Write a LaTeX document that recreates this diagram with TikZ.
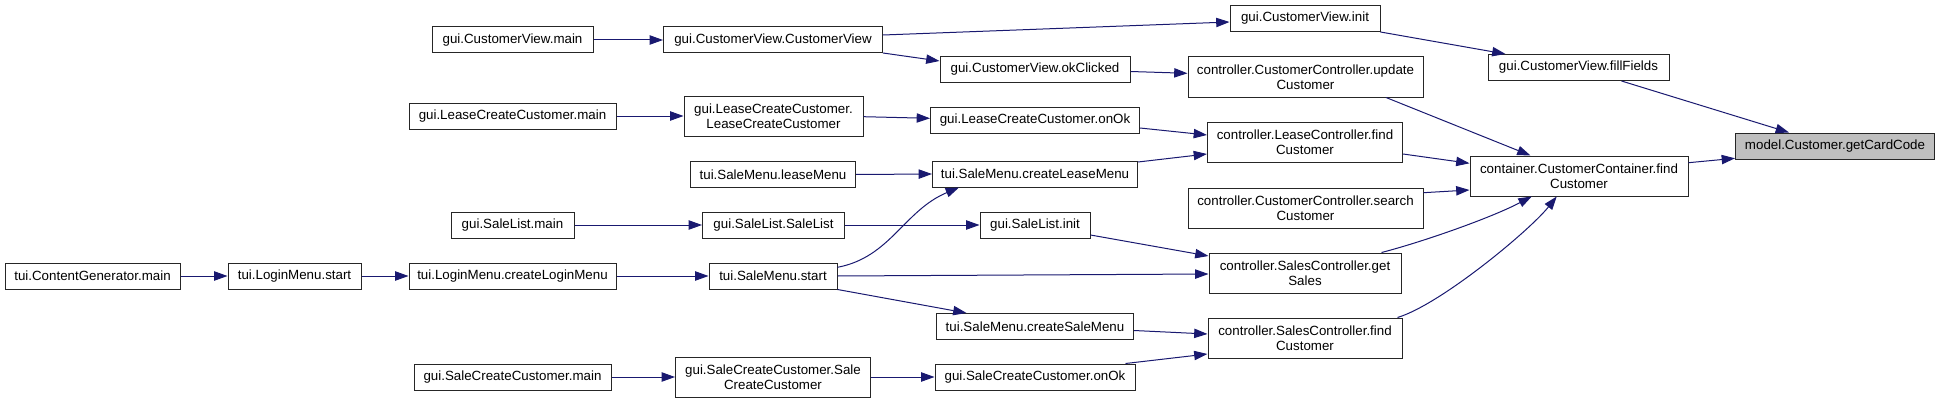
\documentclass[tikz,border=0pt]{standalone}
\usepackage{fontspec}
\setmainfont{Liberation Sans}
\usetikzlibrary{arrows.meta,calc}
\definecolor{midnight}{HTML}{191970}
\definecolor{greyfill}{HTML}{BFBFBF}
\tikzset{
  box/.style={draw=black!85, line width=0.75pt, fill=white, inner sep=0pt,
    font=\fontsize{10}{11.5}\selectfont, align=center},
  sz/.style 2 args={minimum width=#1*0.75pt, minimum height=#2*0.75pt},
  callarrow/.style={draw=midnight, line width=0.75pt, -{Triangle[length=10pt,width=7pt]}}
}
\begin{document}
\begin{tikzpicture}[x=0.75pt,y=-0.75pt]
\useasboundingbox (0,0) rectangle (1940,403);
% nodes
\node[box, sz={175}{26}] (cg) at (92.5,276) {tui.ContentGenerator.main};
\node[box, sz={133}{26}] (lms) at (294.5,276) {tui.LoginMenu.start};
\node[box, sz={207}{26}] (clm) at (512.5,276) {tui.LoginMenu.createLoginMenu};
\node[box, sz={161}{26}] (cvm) at (512.5,40) {gui.CustomerView.main};
\node[box, sz={207}{26}] (lccm) at (512.5,116) {gui.LeaseCreateCustomer.main};
\node[box, sz={123}{26}] (slm) at (512.5,225) {gui.SaleList.main};
\node[box, sz={197}{26}] (sccm) at (512.5,377) {gui.SaleCreateCustomer.main};
\node[box, sz={219}{26}] (cvcv) at (773,40) {gui.CustomerView.CustomerView};
\node[box, sz={179}{40}] (lcclcc) at (773.5,116) {gui.LeaseCreateCustomer.\\LeaseCreateCustomer};
\node[box, sz={165}{26}] (lmenu) at (773,174.5) {tui.SaleMenu.leaseMenu};
\node[box, sz={142}{26}] (slsl) at (773.5,225) {gui.SaleList.SaleList};
\node[box, sz={128}{26}] (sms) at (773,276) {tui.SaleMenu.start};
\node[box, sz={195}{40}] (scscc) at (773,377) {gui.SaleCreateCustomer.Sale\\CreateCustomer};
\node[box, sz={190}{26}] (okc) at (1035,69.5) {gui.CustomerView.okClicked};
\node[box, sz={209}{26}] (lcok) at (1035,120) {gui.LeaseCreateCustomer.onOk};
\node[box, sz={205}{26}] (clmenu) at (1035,174) {tui.SaleMenu.createLeaseMenu};
\node[box, sz={110}{26}] (sli) at (1035,225) {gui.SaleList.init};
\node[box, sz={197}{26}] (csm) at (1035,326.5) {tui.SaleMenu.createSaleMenu};
\node[box, sz={200}{26}] (scok) at (1035,377) {gui.SaleCreateCustomer.onOk};
\node[box, sz={150}{26}] (cvi) at (1305,18.5) {gui.CustomerView.init};
\node[box, sz={235}{40}] (ccu) at (1305.5,77) {controller.CustomerController.update\\Customer};
\node[box, sz={195}{40}] (lcf) at (1305,142.5) {controller.LeaseController.find\\Customer};
\node[box, sz={235}{40}] (ccs) at (1305.5,208) {controller.CustomerController.search\\Customer};
\node[box, sz={192}{40}] (scg) at (1305,273) {controller.SalesController.get\\Sales};
\node[box, sz={194}{40}] (scf) at (1305,338) {controller.SalesController.find\\Customer};
\node[box, sz={181}{26}] (cvff) at (1578.5,67.5) {gui.CustomerView.fillFields};
\node[box, sz={218}{40}] (ccf) at (1579,176) {container.CustomerContainer.find\\Customer};
\node[box, sz={199}{26}, fill=greyfill] (gcc) at (1835,146) {model.Customer.getCardCode};
% edges
\draw[callarrow] (cg.east) -- (lms.west);
\draw[callarrow] (lms.east) -- (clm.west);
\draw[callarrow] (clm.east) -- (sms.west);
\draw[callarrow] (cvm.east) -- (cvcv.west);
\draw[callarrow] (lccm.east) -- (lcclcc.west);
\draw[callarrow] (slm.east) -- (slsl.west);
\draw[callarrow] (sccm.east) -- (scscc.west);
\draw[callarrow] ($(cvcv.east)+(0,-5)$) -- ($(cvi.west)+(0,3.5)$);
\draw[callarrow] ($(cvcv.south east)+(0,-0.5)$) -- ($(okc.west)+(0,-8.5)$);
\draw[callarrow] ($(okc.east)+(0,2)$) -- ($(ccu.west)+(0,-3.7)$);
\draw[callarrow] ($(lcclcc.east)+(0,0.7)$) -- ($(lcok.west)+(0,-1.7)$);
\draw[callarrow] ($(lcok.east)+(0,8)$) -- ($(lcf.west)+(0,-7.5)$);
\draw[callarrow] ($(clmenu.east)+(0,-12)$) -- ($(lcf.west)+(0,11.5)$);
\draw[callarrow] (lmenu.east) -- (clmenu.west);
\draw[callarrow] ($(sms.east)+(0,-8.7)$) .. controls +(53,-10) and +(-55,23) .. ($(clmenu.south west)+(27,0)$);
\draw[callarrow] (sms.east) -- ($(scg.west)+(0,1)$);
\draw[callarrow] (sms.south east) -- ($(csm.north west)+(30.5,0)$);
\draw[callarrow] (slsl.east) -- (sli.west);
\draw[callarrow] ($(sli.east)+(0,10)$) -- ($(scg.west)+(0,-17)$);
\draw[callarrow] ($(csm.east)+(0,4)$) -- ($(scf.west)+(0,-4)$);
\draw[callarrow] (scscc.east) -- (scok.west);
\draw[callarrow] ($(scok.north east)+(-10,0)$) -- ($(scf.west)+(0,16)$);
\draw[callarrow] (cvi.south east) -- ($(cvff.north west)+(18,0)$);
\draw[callarrow] ($(cvff.south)+(43,0)$) -- ($(gcc.north west)+(54,0)$);
\draw[callarrow] ($(ccu.south)+(80.5,0)$) -- ($(ccf.north)+(-48.5,0)$);
\draw[callarrow] ($(lcf.east)+(0,11.5)$) -- ($(ccf.west)+(0,-12.7)$);
\draw[callarrow] ($(ccs.east)+(0,-15.3)$) -- ($(ccf.west)+(0,14)$);
\draw[callarrow] ($(ccf.east)+(0,-13.3)$) -- ($(gcc.west)+(0,12.3)$);
\draw[callarrow] ($(scg.north east)+(-20,0)$) .. controls +(39,-10) and +(-42,22) .. ($(ccf.south)+(-47.3,0)$);
\draw[callarrow] ($(scf.north east)+(-5,0)$) .. controls +(43,-13) and +(-27,34) .. ($(ccf.south)+(-22.3,0)$);
\end{tikzpicture}
\end{document}
